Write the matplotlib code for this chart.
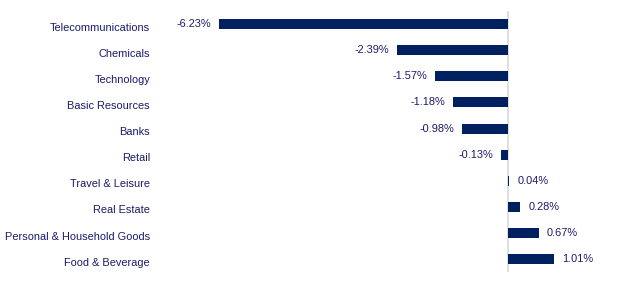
import matplotlib
matplotlib.use("Agg")
import matplotlib.pyplot as plt
import matplotlib.transforms as mtransforms

categories = ["Telecommunications", "Chemicals", "Technology", "Basic Resources", "Banks",
              "Retail", "Travel & Leisure", "Real Estate", "Personal & Household Goods",
              "Food & Beverage"]
values = [-6.23, -2.39, -1.57, -1.18, -0.98, -0.13, 0.04, 0.28, 0.67, 1.01]

W, H = 618, 286
fig = plt.figure(figsize=(W / 100, H / 100), dpi=100)
left_px, right_px = 200, 600
top_px, bot_px = 11.0, 272.3
ax = fig.add_axes([left_px / W, 1 - bot_px / H, (right_px - left_px) / W, (bot_px - top_px) / H])

scale = 46.3
zero_px = 507.5
ax.set_xlim(-(zero_px - left_px) / scale, (right_px - zero_px) / scale)
ax.set_ylim(len(categories) - 0.5, -0.5)

bar_color = "#002060"
text_color = "#1b1b6b"
font = "Liberation Sans"
fs = 7.9

ypos = list(range(len(categories)))
ax.barh(ypos, values, height=0.385, color=bar_color, zorder=2)
ax.axvline(0, color="#d9d9d9", lw=1.2, zorder=1)

offset = 8 / scale
for y, v in zip(ypos, values):
    if v < 0:
        ax.text(v - offset, y, f"{v:.2f}%", ha="right", va="center", fontsize=fs,
                color=text_color, family=font)
    else:
        ax.text(v + offset, y, f"{v:.2f}%", ha="left", va="center", fontsize=fs,
                color=text_color, family=font)

# category labels (slightly below bar centre, right-aligned at x=150 px)
label_tr = mtransforms.blended_transform_factory(fig.transFigure, ax.transData)
label_tr = label_tr + mtransforms.ScaledTranslation(0, -3.5 / 100, fig.dpi_scale_trans)
for y, c in zip(ypos, categories):
    ax.text(150 / W, y, c, ha="right", va="center", fontsize=fs, color=text_color,
            family=font, transform=label_tr, clip_on=False)

ax.set_xticks([])
ax.set_yticks([])
for s in ax.spines.values():
    s.set_visible(False)

fig.savefig("out.png", dpi=100, facecolor="white")
